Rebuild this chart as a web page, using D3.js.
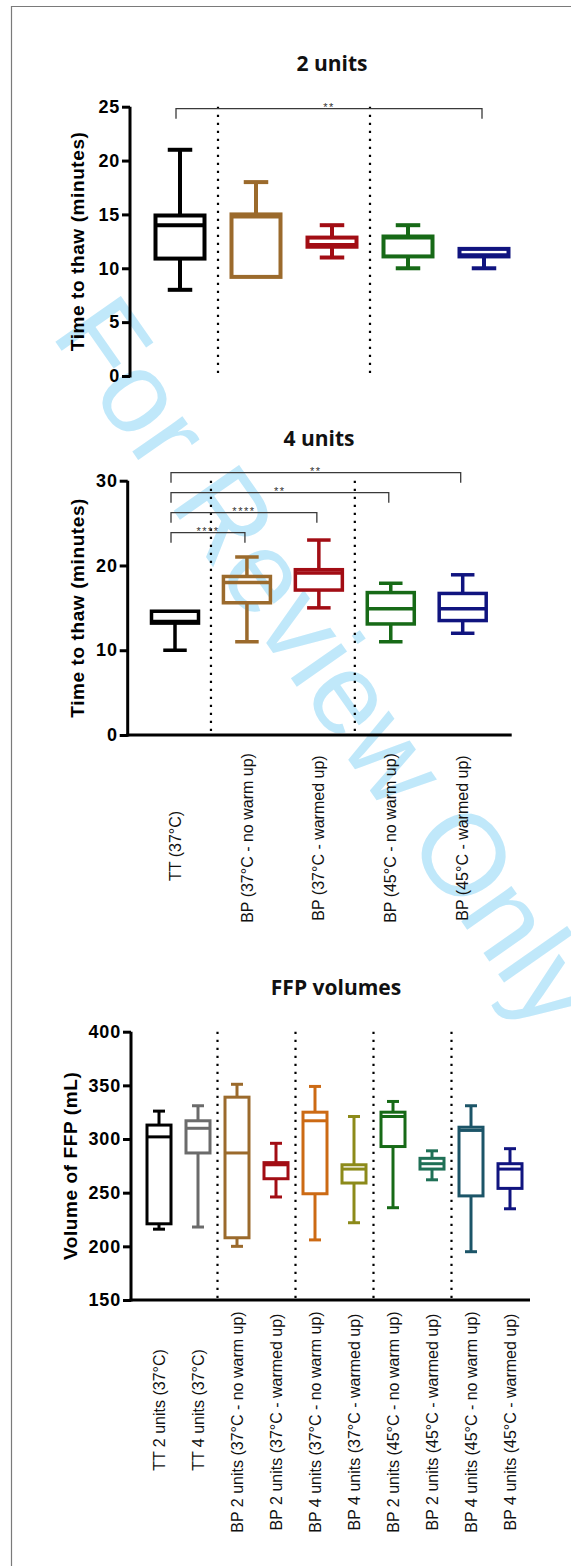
<!DOCTYPE html>
<html><head><meta charset="utf-8">
<script src="https://cdn.jsdelivr.net/npm/d3@7"></script>
<style>
html,body{margin:0;padding:0;background:#fff;}
svg{display:block;}
</style></head>
<body><svg id="chart" width="571" height="1566"></svg>
<script>
// ---------- Time to thaw, 2 units ----------
const thawGroups = ["TT (37°C)", "BP (37°C - no warm up)", "BP (37°C - warmed up)", "BP (45°C - no warm up)", "BP (45°C - warmed up)"];
const thawColors = ["#000000", "#9b6a2c", "#a20d14", "#176a17", "#10147f"];
const thawDividers = [1, 3];            // a dotted divider sits before these groups

const thaw2Min    = [8,    9.2,  11,    10,    10];
const thaw2Q1     = [10.9, 9.2,  12,    11.1,  11.1];
const thaw2Median = [14,   14.8, 12.15, 12.85, 11.2];
const thaw2Q3     = [14.9, 15,   12.85, 12.95, 11.8];
const thaw2Max    = [21,   18,   14,    14,    11.8];
const thaw2Ticks  = [0, 5, 10, 15, 20, 25];
const thaw2Sig    = [{ from: 0, to: 4, label: "**" }];

// ---------- Time to thaw, 4 units ----------
const thaw4Min    = [10,   11,   15,   11,   12];
const thaw4Q1     = [13.2, 15.6, 17.1, 13.1, 13.5];
const thaw4Median = [13.4, 18,   19.1, 14.9, 14.9];
const thaw4Q3     = [14.6, 18.7, 19.5, 16.8, 16.7];
const thaw4Max    = [14.6, 21,   23,   17.9, 18.9];
const thaw4Ticks  = [0, 10, 20, 30];
const thaw4Sig    = [
  { from: 0, to: 4, label: "**" },
  { from: 0, to: 3, label: "**" },
  { from: 0, to: 2, label: "****" },
  { from: 0, to: 1, label: "****" }
];

// ---------- FFP volumes (mL) ----------
const ffpGroups = [
  "TT 2 units (37°C)", "TT 4 units (37°C)",
  "BP 2 units (37°C - no warm up)", "BP 2 units (37°C - warmed up)",
  "BP 4 units (37°C - no warm up)", "BP 4 units (37°C - warmed up)",
  "BP 2 units (45°C - no warm up)", "BP 2 units (45°C - warmed up)",
  "BP 4 units (45°C - no warm up)", "BP 4 units (45°C - warmed up)"
];
const ffpColors = ["#000000", "#6b6b6b", "#9b6a2c", "#a20d14", "#cc6a14", "#8c8a1a", "#176a17", "#1f7056", "#1c5568", "#10147f"];
const ffpDividers = [2, 4, 6, 8];
const ffpMin    = [216, 218, 200, 246, 206, 222, 236, 262, 195, 235];
const ffpQ1     = [221, 287, 208, 263, 249, 259, 293, 272, 247, 254];
const ffpMedian = [302, 310, 287, 276, 317, 272, 321, 277, 308, 272];
const ffpQ3     = [313, 317, 339, 278, 325, 276, 325, 282, 311, 277];
const ffpMax    = [326, 331, 351, 296, 349, 321, 335, 289, 331, 291];
const ffpTicks  = [150, 200, 250, 300, 350, 400];

function rows(groups, colors, mn, q1, md, q3, mx) {
  return groups.map((g, i) => ({ group: g, color: colors[i], min: mn[i], q1: q1[i], median: md[i], q3: q3[i], max: mx[i] }));
}

const panels = [
  {
    title: "2 units", titleX: 332, titleY: 71,
    yLabel: "Time to thaw (minutes)", yLabelX: 77,
    data: rows(thawGroups, thawColors, thaw2Min, thaw2Q1, thaw2Median, thaw2Q3, thaw2Max),
    dividers: thawDividers, ticks: thaw2Ticks, sig: thaw2Sig,
    domain: [0, 25], yRange: [376, 106.7], axisX: 130, xRange: [180, 484],
    boxW: 49, sw: 4, xAxis: false, labels: false
  },
  {
    title: "4 units", titleX: 319, titleY: 446,
    yLabel: "Time to thaw (minutes)", yLabelX: 77.5,
    data: rows(thawGroups, thawColors, thaw4Min, thaw4Q1, thaw4Median, thaw4Q3, thaw4Max),
    dividers: thawDividers, ticks: thaw4Ticks, sig: thaw4Sig,
    domain: [0, 30], yRange: [735, 480.7], axisX: 127.7, xRange: [175, 462.7],
    boxW: 47, sw: 3.5, xAxis: true, xEnd: 511.7, labels: true, labelMidTT: 846, labelMidBP: 838
  },
  {
    title: "FFP volumes", titleX: 336, titleY: 995,
    yLabel: "Volume of FFP (mL)", yLabelX: 70,
    data: rows(ffpGroups, ffpColors, ffpMin, ffpQ1, ffpMedian, ffpQ3, ffpMax),
    dividers: ffpDividers, ticks: ffpTicks, sig: [],
    domain: [150, 400], yRange: [1300, 1031.7], axisX: 131, xRange: [159, 510],
    boxW: 24, sw: 3, xAxis: true, xEnd: 530, labels: true, labelMidTT: 1410, labelMidBP: 1422
  }
];

const svg = d3.select("#chart");
svg.append("rect").attr("width", 571).attr("height", 1566).attr("fill", "#fff");

// page frame
svg.append("path").attr("d", "M11.5,1566V6.5H571")
  .attr("fill", "none").attr("stroke", "#7a7a7a").attr("stroke-width", 1.2);

// review watermark
svg.append("text")
  .attr("transform", "translate(50,334) rotate(55)")
  .attr("font-family", "Liberation Sans, Arial, sans-serif")
  .attr("font-size", 116)
  .attr("fill", "rgb(192,232,250)")
  .text("For Review Only");

panels.forEach(p => {
  const g = svg.append("g");
  const y = d3.scaleLinear().domain(p.domain).range(p.yRange);
  const x = d3.scalePoint().domain(p.data.map(d => d.group)).range(p.xRange);
  const step = x.step();
  const [yBot, yTop] = p.yRange;

  // title
  g.append("text").attr("x", p.titleX).attr("y", p.titleY)
    .attr("text-anchor", "middle")
    .attr("font-family", "Open Sans, sans-serif").attr("font-weight", 700)
    .attr("font-size", 21).attr("fill", "#111").text(p.title);

  // dotted dividers between groups
  p.dividers.forEach(k => {
    const dx = x(p.data[k].group) - step / 2;
    g.append("line").attr("x1", dx).attr("x2", dx).attr("y1", yTop).attr("y2", yBot)
      .attr("stroke", "#000").attr("stroke-width", 2.2).attr("stroke-dasharray", "2.2 5.8");
  });

  // y axis
  const yAxis = d3.axisLeft(y).tickValues(p.ticks).tickSize(8).tickPadding(2).tickFormat(d3.format("d"));
  const ax = g.append("g").attr("transform", `translate(${p.axisX},0)`).call(yAxis);
  ax.select(".domain").attr("d", `M0,${yTop}V${yBot + 1.5}`).attr("stroke", "#000").attr("stroke-width", 3);
  ax.selectAll(".tick line").attr("stroke", "#000").attr("stroke-width", 3);
  ax.selectAll(".tick text")
    .attr("font-family", "Liberation Sans, Arial, sans-serif").attr("font-weight", 700)
    .attr("font-size", 18).attr("letter-spacing", 0.8).attr("fill", "#000");

  // y axis title
  g.append("text")
    .attr("transform", `translate(${p.yLabelX},${(yTop + yBot) / 2}) rotate(-90)`)
    .attr("dy", "0.35em").attr("text-anchor", "middle")
    .attr("font-family", "Liberation Sans, Arial, sans-serif").attr("font-weight", 700)
    .attr("font-size", 19).attr("letter-spacing", 0.6).attr("fill", "#000")
    .text(p.yLabel);

  // x axis line and category labels
  if (p.xAxis) {
    g.append("line").attr("x1", p.axisX - 1.5).attr("x2", p.xEnd).attr("y1", yBot).attr("y2", yBot)
      .attr("stroke", "#000").attr("stroke-width", 3);
  }
  if (p.labels) {
    g.selectAll(".cat").data(p.data).join("text")
      .attr("transform", d => `translate(${x(d.group)},${d.group.startsWith("TT") ? p.labelMidTT : p.labelMidBP}) rotate(-90)`)
      .attr("dy", "0.35em").attr("text-anchor", "middle")
      .attr("font-family", "Liberation Sans, Arial, sans-serif")
      .attr("font-size", 16).attr("fill", "#111")
      .text(d => d.group);
  }

  // box plots
  const bw = p.boxW, cw = bw / 2;
  const box = g.selectAll(".box").data(p.data).join("g")
    .attr("stroke", d => d.color).attr("stroke-width", p.sw).attr("fill", "none");
  box.filter(d => d.max > d.q3).append("line")
    .attr("x1", d => x(d.group)).attr("x2", d => x(d.group))
    .attr("y1", d => y(d.q3)).attr("y2", d => y(d.max));
  box.filter(d => d.min < d.q1).append("line")
    .attr("x1", d => x(d.group)).attr("x2", d => x(d.group))
    .attr("y1", d => y(d.q1)).attr("y2", d => y(d.min));
  box.filter(d => d.max > d.q3).append("line")
    .attr("x1", d => x(d.group) - cw / 2).attr("x2", d => x(d.group) + cw / 2)
    .attr("y1", d => y(d.max)).attr("y2", d => y(d.max));
  box.filter(d => d.min < d.q1).append("line")
    .attr("x1", d => x(d.group) - cw / 2).attr("x2", d => x(d.group) + cw / 2)
    .attr("y1", d => y(d.min)).attr("y2", d => y(d.min));
  box.append("rect")
    .attr("x", d => x(d.group) - bw / 2).attr("width", bw)
    .attr("y", d => y(d.q3)).attr("height", d => y(d.q1) - y(d.q3));
  box.append("line")
    .attr("x1", d => x(d.group) - bw / 2).attr("x2", d => x(d.group) + bw / 2)
    .attr("y1", d => y(d.median)).attr("y2", d => y(d.median));

  // significance brackets, outermost first
  p.sig.forEach((s, i) => {
    const ly = yTop - 8 + i * 20 + (p.sig.length === 1 ? 10 : 0);
    const xa = x(p.data[s.from].group) - 4, xb = x(p.data[s.to].group) - 2;
    g.append("path").attr("d", `M${xa},${ly + 10}V${ly}H${xb}V${ly + 10}`)
      .attr("fill", "none").attr("stroke", "#3a3a3a").attr("stroke-width", 1.3);
    g.append("text").attr("x", (xa + xb) / 2).attr("y", ly + 2)
      .attr("text-anchor", "middle")
      .attr("font-family", "Liberation Sans, Arial, sans-serif")
      .attr("font-size", 11).attr("letter-spacing", 1.5).attr("fill", "#333")
      .text(s.label);
  });
});
</script>
</body></html>
